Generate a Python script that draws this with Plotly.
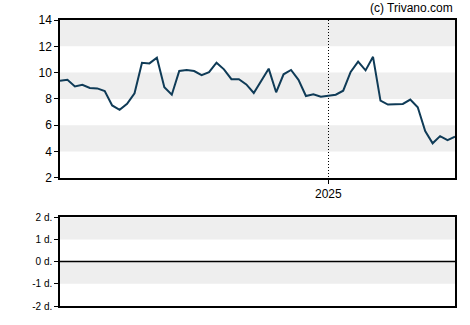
import pandas as pd
import plotly.graph_objects as go
from plotly.subplots import make_subplots

# ---- data ----
dates = pd.date_range("2024-04-24", periods=54, freq="7D")
prices = [9.37, 9.45, 8.95, 9.07, 8.83, 8.80, 8.60, 7.50, 7.17, 7.62,
          8.43, 10.75, 10.70, 11.13, 8.88, 8.32, 10.12, 10.20, 10.12, 9.80,
          10.03, 10.75, 10.25, 9.50, 9.50, 9.10, 8.45, 9.37, 10.30, 8.50,
          9.87, 10.20, 9.45, 8.22, 8.35, 8.17, 8.25, 8.32, 8.62, 10.05,
          10.83, 10.17, 11.20, 7.87, 7.57, 7.62, 7.62, 7.95, 7.37, 5.55,
          4.62, 5.17, 4.87, 5.12]
price_ticks = [2, 4, 6, 8, 10, 12, 14]
price_bands = [(4, 6), (8, 10), (12, 14)]
sub_ticks = [-2, -1, 0, 1, 2]
sub_tick_labels = ["-2 d.", "-1 d.", "0 d.", "1 d.", "2 d."]
sub_bands = [(-1, 0), (1, 2)]
year_tick = ["2025-01-01"]
year_label = ["2025"]

LINE = "#0f3b57"
BAND = "#eeeeee"
FONT = "Liberation Sans, Arial, sans-serif"

H_TOP, B_MARGIN = 20, 15
plot_h = 325 - H_TOP - B_MARGIN

fig = make_subplots(rows=2, cols=1, shared_xaxes=False, vertical_spacing=0)

fig.add_trace(go.Scatter(x=dates, y=prices, mode="lines",
                         line=dict(color=LINE, width=2), hoverinfo="skip"),
              row=1, col=1)
fig.add_trace(go.Scatter(x=[dates[0], dates[-1]], y=[None, None], mode="lines",
                         hoverinfo="skip"), row=2, col=1)

for lo, hi in price_bands:
    fig.add_shape(type="rect", xref="x domain", yref="y", x0=0, x1=1, y0=lo, y1=hi,
                  fillcolor=BAND, line_width=0, layer="below")
for lo, hi in sub_bands:
    fig.add_shape(type="rect", xref="x2 domain", yref="y2", x0=0, x1=1, y0=lo, y1=hi,
                  fillcolor=BAND, line_width=0, layer="below")
fig.add_shape(type="line", xref="x2 domain", yref="y2", x0=0, x1=1, y0=0, y1=0,
              line=dict(color="black", width=1.5))

xr = [dates[0], dates[-1]]
fig.update_xaxes(range=xr, showline=True, linecolor="black", linewidth=1.5, mirror=True,
                 zeroline=False)
fig.update_xaxes(row=1, col=1, tickvals=year_tick, ticktext=year_label,
                 showgrid=True, gridcolor="black", griddash="1px,2px", gridwidth=1,
                 ticks="outside", ticklen=4, tickcolor="black",
                 tickfont=dict(family=FONT, size=12, color="black"))
fig.update_xaxes(row=2, col=1, showgrid=False, showticklabels=False, ticks="")

fig.update_yaxes(showline=True, linecolor="black", linewidth=1.5, mirror=True,
                 showgrid=False, zeroline=False, ticks="outside", ticklen=4,
                 tickcolor="black")
fig.update_yaxes(row=1, col=1, range=[2, 14], tickvals=price_ticks,
                 tickfont=dict(family=FONT, size=12, color="black"),
                 domain=[1 - 160 / plot_h, 1])
fig.update_yaxes(row=2, col=1, range=[-2, 2], tickvals=sub_ticks, ticktext=sub_tick_labels,
                 tickfont=dict(family=FONT, size=10, color="black"),
                 domain=[(plot_h - 290) / plot_h, 1 - 200 / plot_h])

fig.add_annotation(text="(c) Trivano.com", xref="paper", yref="paper", x=1, y=1,
                   xanchor="right", yanchor="bottom", yshift=3, showarrow=False,
                   font=dict(family=FONT, size=12, color="black"))

fig.update_layout(width=470, height=325, margin=dict(l=60, r=15, t=H_TOP, b=B_MARGIN),
                  plot_bgcolor="white", paper_bgcolor="white", showlegend=False)

fig.write_html("out.html")
